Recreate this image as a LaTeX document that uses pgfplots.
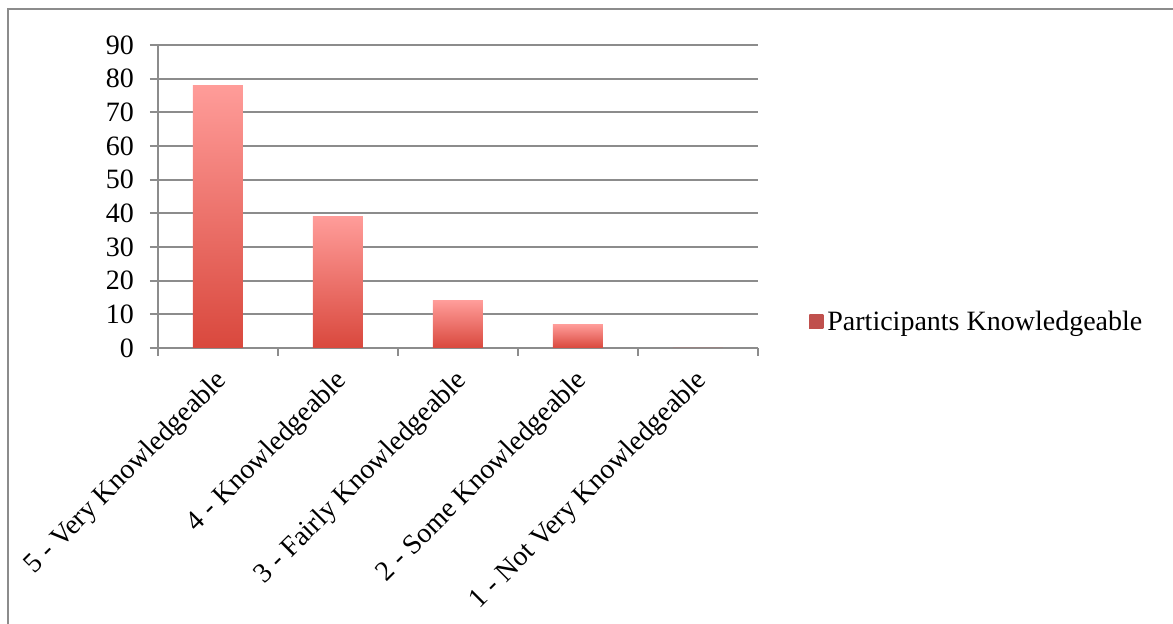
\documentclass[border=0pt]{standalone}
\usepackage{fontspec}
\setmainfont{Liberation Serif}
\usepackage{pgfplots}
\pgfplotsset{compat=1.18}
\definecolor{gridc}{HTML}{8C8C8C}
\definecolor{bartop}{HTML}{FF9C99}
\definecolor{barbot}{HTML}{D9483D}
\definecolor{legc}{HTML}{C0504D}
\pgfplotstableread{
x y
0 78
1 39
2 14
3 7
4 0
}\datatable
\begin{document}
\begin{tikzpicture}[x=1pt,y=1pt]
\useasboundingbox (0,0) rectangle (586.5,312);
\draw[gridc, line width=1pt] (4,-10) -- (4,307.5) -- (600,307.5);
\begin{axis}[
  at={(79pt,138pt)}, anchor=south west,
  scale only axis, width=300pt, height=151.5pt,
  xmin=-0.5, xmax=4.5, ymin=0, ymax=90,
  ytick={0,10,...,90},
  xtick={-0.5,0.5,...,4.5}, xticklabels={},
  extra x ticks={0,1,2,3,4},
  extra x tick labels={5 - Very Knowledgeable, 4 - Knowledgeable, 3 - Fairly Knowledgeable, 2 - Some Knowledgeable, 1 - Not Very Knowledgeable},
  extra x tick style={major tick length=0pt, grid=none},
  axis x line*=bottom, axis y line*=left,
  axis line style={gridc, line width=0.9pt},
  tick style={gridc, line width=0.9pt},
  major tick length=4pt, tick align=outside,
  ymajorgrids, grid style={gridc, line width=0.9pt},
  font=\fontsize{14}{16}\selectfont,
  ticklabel style={font=\fontsize{14}{16}\selectfont},
  /pgf/number format/assume math mode=true,
  yticklabel style={xshift=-4.5pt},
  xticklabel style={xshift=4pt, yshift=-13pt, rotate=45, anchor=east, inner sep=2pt},
  legend style={at={(1.075,0.086)}, anchor=west, draw=none, fill=none, font=\fontsize{14}{16}\selectfont},
  legend image code/.code={\path[fill=legc, top color=legc, bottom color=legc] (0pt,-3.5pt) rectangle (7pt,3.5pt);},
]
\addplot[ybar, bar width=25pt, bar shift=0pt, draw=none, top color=bartop, bottom color=barbot]
  coordinates {(0,78)};
\addlegendentry{Participants Knowledgeable}
\addplot[ybar, bar width=25pt, bar shift=0pt, draw=none, top color=bartop, bottom color=barbot, forget plot]
  coordinates {(1,39)};
\addplot[ybar, bar width=25pt, bar shift=0pt, draw=none, top color=bartop, bottom color=barbot, forget plot]
  coordinates {(2,14)};
\addplot[ybar, bar width=25pt, bar shift=0pt, draw=none, top color=bartop, bottom color=barbot, forget plot]
  coordinates {(3,7)};
\addplot[ybar, bar width=25pt, bar shift=0pt, draw=none, fill=barbot, forget plot]
  coordinates {(4,0)};
\end{axis}
\end{tikzpicture}
\end{document}
